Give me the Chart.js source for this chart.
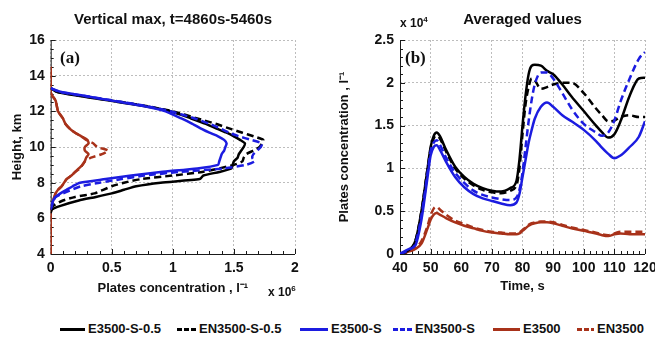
<!DOCTYPE html>
<html>
<head>
<meta charset="utf-8">
<script src="https://cdn.jsdelivr.net/npm/chart.js@4.4.0/dist/chart.umd.min.js"></script>
<style>
  body { margin: 0; width: 655px; height: 341px; overflow: hidden; background: #fff; position: relative;
         font-family: 'Liberation Sans', Arial, sans-serif; color: #111; }
  canvas { position: absolute; top: 0; }
  #profil { left: 0; }
  #media { left: 320px; }
  .tag { position: absolute; font-family: 'Liberation Serif', serif; font-weight: bold; font-size: 17px; }
  .mult { position: absolute; font-weight: bold; font-size: 12px; }
  .mult sup { font-size: 8px; }
  .leg { position: absolute; top: 320px; height: 18px; font-weight: bold; font-size: 13px; line-height: 18px; white-space: nowrap; }
  .leg i { position: absolute; top: 8px; height: 3px; }
</style>
</head>
<body>
<canvas id="profil" width="346" height="300"></canvas>
<canvas id="media" width="405" height="300"></canvas>

<div class="tag" style="left:60px; top:48px">(a)</div>
<div class="tag" style="left:405px; top:48px">(b)</div>
<div class="mult" style="left:268px; top:284px">x 10<sup>6</sup></div>
<div class="mult" style="left:400px; top:15px">x 10<sup>4</sup></div>
<div id="legenda"></div>

<script>
//Dados painel (a): alturas em km, concentracao em 10^6 l^-1
const alturas = [4, 6, 6.3, 6.5, 6.7, 7.0, 7.2, 7.4, 7.6, 7.8, 8.0, 8.2, 8.4, 8.6, 8.8, 9.0, 9.2, 9.4, 9.6, 9.8,
  10.0, 10.2, 10.4, 10.6, 10.8, 11.0, 11.3, 11.6, 12.0, 12.3, 12.6, 12.9, 13.1, 13.3, 14.5]
const perfilE35S05 = [null, null, 0, 0.01, 0.08, 0.23, 0.37, 0.5, 0.6, 0.7, 0.9, 1.22, 1.25, 1.38, 1.48, 1.49, 1.5, 1.53, 1.54, 1.56,
  1.58, 1.59, 1.55, 1.5, 1.44, 1.37, 1.27, 1.15, 0.98, 0.76, 0.48, 0.2, 0.05, 0, null]
const perfilEN35S05 = [null, null, null, 0, 0.02, 0.1, 0.2, 0.36, 0.43, 0.5, 0.6, 0.74, 1.0, 1.24, 1.38, 1.5, 1.57, 1.58, 1.6, 1.66,
  1.71, 1.73, 1.74, 1.66, 1.57, 1.48, 1.35, 1.2, 1.0, 0.78, 0.5, 0.22, 0.05, 0, null]
const perfilE35S = [null, null, null, 0, 0.005, 0.02, 0.04, 0.08, 0.13, 0.18, 0.24, 0.45, 0.66, 0.9, 1.2, 1.37, 1.38, 1.39, 1.4, 1.42,
  1.43, 1.44, 1.42, 1.37, 1.3, 1.24, 1.16, 1.07, 0.94, 0.76, 0.5, 0.25, 0.08, 0, null]
const perfilEN35S = [null, null, null, 0, 0.01, 0.025, 0.04, 0.1, 0.17, 0.25, 0.4, 0.58, 0.77, 1.05, 1.42, 1.6, 1.67, 1.65, 1.66, 1.69,
  1.72, 1.73, 1.64, 1.54, 1.46, 1.4, 1.3, 1.18, 0.98, 0.78, 0.52, 0.24, 0.07, 0, null]
const perfilE35 = [0, 0, 0, 0.005, 0.01, 0.02, 0.03, 0.04, 0.06, 0.09, 0.11, 0.13, 0.17, 0.2, 0.23, 0.26, 0.28, 0.29, 0.31, 0.28,
  0.28, 0.31, 0.3, 0.25, 0.2, 0.16, 0.12, 0.1, 0.06, 0.05, 0.04, 0.01, 0, 0, 0]
const perfilEN35 = [0, 0, 0, 0.005, 0.01, 0.02, 0.03, 0.04, 0.06, 0.09, 0.11, 0.13, 0.17, 0.2, 0.24, 0.26, 0.28, 0.33, 0.42, 0.47,
  0.38, 0.35, 0.29, 0.25, 0.2, 0.16, 0.12, 0.1, 0.06, 0.05, 0.04, 0.01, 0, 0, 0]

//Dados painel (b): tempo em s, media em 10^4 l^-1
const tempos = [40, 43, 45, 47, 49, 50, 51, 52, 53, 55, 58, 61, 64, 67, 70, 73, 76, 78, 79, 80,
  81, 82, 83, 84, 86, 88, 90, 93, 96, 100, 104, 106, 108, 110, 112, 115, 118, 120]
const mediaE35S05 = [0, 0.05, 0.15, 0.5, 1.0, 1.25, 1.38, 1.42, 1.38, 1.22, 1.02, 0.9, 0.82, 0.77, 0.74, 0.73, 0.77, 0.85, 1.1, 1.5,
  1.85, 2.1, 2.2, 2.21, 2.2, 2.14, 2.1, 1.98, 1.84, 1.67, 1.5, 1.42, 1.36, 1.4, 1.55, 1.85, 2.05, 2.06]
const mediaEN35S05 = [0, 0.05, 0.15, 0.5, 1.0, 1.22, 1.35, 1.38, 1.35, 1.2, 1.0, 0.88, 0.8, 0.75, 0.72, 0.71, 0.74, 0.8, 1.0, 1.4,
  1.75, 1.95, 2.05, 2.03, 1.93, 1.95, 1.98, 2.0, 2.0, 1.88, 1.7, 1.62, 1.55, 1.56, 1.6, 1.62, 1.6, 1.6]
const mediaE35S = [0, 0.06, 0.1, 0.4, 0.9, 1.15, 1.25, 1.27, 1.22, 1.08, 0.9, 0.78, 0.7, 0.65, 0.62, 0.59, 0.57, 0.6, 0.7, 0.9,
  1.1, 1.3, 1.45, 1.58, 1.72, 1.77, 1.72, 1.62, 1.55, 1.45, 1.32, 1.24, 1.17, 1.12, 1.15, 1.25, 1.37, 1.55]
const mediaEN35S = [0, 0.05, 0.12, 0.45, 0.95, 1.2, 1.3, 1.33, 1.28, 1.13, 0.95, 0.83, 0.74, 0.69, 0.66, 0.64, 0.63, 0.66, 0.75, 0.95,
  1.25, 1.55, 1.8, 1.98, 2.12, 2.12, 2.05, 1.88, 1.7, 1.52, 1.42, 1.38, 1.42, 1.56, 1.78, 2.05, 2.28, 2.36]
const mediaE35 = [0, 0.03, 0.06, 0.12, 0.3, 0.4, 0.46, 0.48, 0.46, 0.42, 0.37, 0.33, 0.3, 0.27, 0.25, 0.24, 0.23, 0.23, 0.24, 0.27,
  0.3, 0.33, 0.35, 0.36, 0.37, 0.37, 0.36, 0.33, 0.3, 0.27, 0.24, 0.22, 0.21, 0.23, 0.24, 0.23, 0.23, 0.23]
const mediaEN35 = [0, 0.03, 0.07, 0.15, 0.33, 0.45, 0.53, 0.55, 0.52, 0.46, 0.39, 0.35, 0.31, 0.28, 0.26, 0.25, 0.24, 0.24, 0.25, 0.28,
  0.31, 0.34, 0.36, 0.37, 0.38, 0.38, 0.37, 0.34, 0.31, 0.28, 0.25, 0.23, 0.22, 0.24, 0.26, 0.26, 0.26, 0.26]

const nomes = ['E3500-S-0.5', 'EN3500-S-0.5', 'E3500-S', 'EN3500-S', 'E3500', 'EN3500']
const cores = ['#000000', '#000000', '#1c1ce0', '#1c1ce0', '#a8321a', '#a8321a']
const tracejado = [false, true, false, true, false, true]
const ordem = [3, 2, 1, 0, 5, 4]

const fonte = "'Liberation Sans', Arial, sans-serif"

//Eixos em preto com marcas internas (estilo matlab)
const eixoMatlab = {
  id: 'eixoMatlab',
  beforeDatasetsDraw(chart, args, opts) {
    const {ctx, chartArea: a, scales: {x, y}} = chart
    ctx.save()
    ctx.strokeStyle = '#1a1a1a'
    ctx.lineWidth = 1
    ctx.beginPath()
    ctx.moveTo(a.left + 0.5, a.top)
    ctx.lineTo(a.left + 0.5, a.bottom + 0.5)
    ctx.lineTo(a.right, a.bottom + 0.5)
    const nx = Math.round((x.max - x.min) / opts.xMenor)
    for (let i = 0; i <= nx; i++) {
      const v = x.min + i * opts.xMenor
      const px = Math.round(x.getPixelForValue(v)) + 0.5
      const len = i % opts.xCada == 0 ? 5 : 3
      ctx.moveTo(px, a.bottom)
      ctx.lineTo(px, a.bottom - len)
    }
    const ny = Math.round((y.max - y.min) / opts.yMenor)
    for (let i = 0; i <= ny; i++) {
      const v = y.min + i * opts.yMenor
      const py = Math.round(y.getPixelForValue(v)) + 0.5
      const len = i % opts.yCada == 0 ? 5 : 3
      ctx.moveTo(a.left, py)
      ctx.lineTo(a.left + len, py)
    }
    ctx.stroke()
    ctx.restore()
  }
}

function serie(i, valores, chave, base) {
  const pontos = []
  valores.forEach((v, k) => {
    if (v === null) return
    pontos.push(chave == 'y' ? {x: v, y: base[k]} : {x: base[k], y: v})
  })
  return {
    label: nomes[i],
    data: pontos,
    borderColor: cores[i],
    borderWidth: 2.5,
    borderDash: tracejado[i] ? [7, 4] : [],
    pointRadius: 0,
    fill: false,
    order: ordem[i],
    tension: chave == 'y' ? 0.2 : 0,
    cubicInterpolationMode: chave == 'y' ? 'default' : 'monotone'
  }
}

function eixo(min, max, passo, larg, titulo, tituloPad) {
  return {
    type: 'linear', min: min, max: max,
    grid: { color: '#bdbdbd', lineWidth: 1, drawTicks: false },
    border: { display: false, dash: [2, 2] },
    ticks: { stepSize: passo, color: '#111', padding: 6, maxRotation: 0, autoSkip: false,
             callback: v => String(+v.toFixed(2)),
             font: { family: fonte, size: 14, weight: 'bold' } },
    title: { display: true, text: titulo, color: '#111', padding: tituloPad,
             font: { family: fonte, size: 13, weight: 'bold' } },
    afterFit: larg
  }
}

function eixoFantasma(w) {
  return {
    position: 'right', display: true,
    grid: { display: false }, border: { display: false },
    ticks: { display: false },
    afterFit: s => { s.width = w }
  }
}

function opcoesBase(titulo) {
  return {
    responsive: false,
    animation: false,
    layout: { padding: 0 },
    plugins: {
      legend: { display: false },
      tooltip: { enabled: false },
      title: { display: true, text: titulo, color: '#111', padding: { top: 11, bottom: 11 },
               font: { family: fonte, size: 15, weight: 'bold' } }
    }
  }
}

//Painel (a)
const perfis = [perfilE35S05, perfilEN35S05, perfilE35S, perfilEN35S, perfilE35, perfilEN35]
const opA = opcoesBase('Vertical max, t=4860s-5460s')
opA.indexAxis = 'y'
opA.scales = {
  x: eixo(0, 2, 0.5, s => { s.height = 46 }, 'Plates concentration , l\u207B\u00B9', { top: 0, bottom: 4 }),
  y: eixo(4, 16, 2, s => { s.width = 50.7 }, 'Height, km', { top: 10, bottom: 0 }),
  yR: eixoFantasma(51)
}
opA.plugins.eixoMatlab = { xMenor: 0.1, xCada: 5, yMenor: 0.5, yCada: 4 }
new Chart(document.getElementById('profil'), {
  type: 'line',
  data: { datasets: perfis.map((p, i) => serie(i, p, 'y', alturas)) },
  options: opA,
  plugins: [eixoMatlab]
})

//Painel (b)
const medias = [mediaE35S05, mediaEN35S05, mediaE35S, mediaEN35S, mediaE35, mediaEN35]
const opB = opcoesBase('Averaged values')
opB.scales = {
  x: eixo(40, 120, 10, s => { s.height = 46 }, 'Time, s', { top: 0, bottom: 6 }),
  y: eixo(0, 2.5, 0.5, s => { s.width = 80 }, 'Plates concentration , l\u207B\u00B9', { top: 17, bottom: 0 }),
  yR: eixoFantasma(80)
}
opB.plugins.eixoMatlab = { xMenor: 2, xCada: 5, yMenor: 0.1, yCada: 5 }
new Chart(document.getElementById('media'), {
  type: 'line',
  data: { datasets: medias.map((m, i) => serie(i, m, 'x', tempos)) },
  options: opB,
  plugins: [eixoMatlab]
})

//Legenda
const posLinha = [60, 177, 300, 393, 493, 577]
const largLinha = [25, 19, 28, 19, 27, 17]
const legendaEl = document.getElementById('legenda')
nomes.forEach((nome, i) => {
  const item = document.createElement('div')
  item.className = 'leg'
  item.style.left = posLinha[i] + 'px'
  const linha = document.createElement('i')
  linha.style.left = '0px'
  linha.style.width = largLinha[i] + 'px'
  linha.style.background = tracejado[i]
    ? `repeating-linear-gradient(90deg, ${cores[i]} 0 5px, transparent 5px 7px)`
    : cores[i]
  const txt = document.createElement('span')
  txt.style.marginLeft = (largLinha[i] + 3) + 'px'
  txt.textContent = nome
  item.appendChild(linha)
  item.appendChild(txt)
  legendaEl.appendChild(item)
})
</script>
</body>
</html>
